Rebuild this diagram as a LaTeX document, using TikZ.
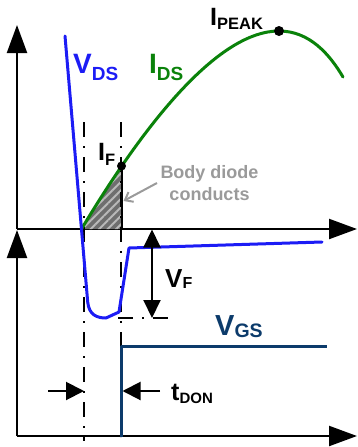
\documentclass[tikz,border=0pt]{standalone}
\usepackage{fontspec}
\setmainfont{Liberation Sans}
\usetikzlibrary{arrows.meta, patterns.meta}
\definecolor{cvds}{HTML}{1C1CF5}
\definecolor{cids}{HTML}{0A820A}
\definecolor{cvgs}{HTML}{0C3B6B}
\definecolor{cnote}{HTML}{9A9A9A}
\definecolor{chatch}{HTML}{6E6E6E}
\newcommand{\sublabel}[5]{{\fontsize{#1}{#1}\selectfont #2}\raisebox{-#5pt}{\fontsize{#3}{#3}\selectfont #4}}

\begin{document}
\begin{tikzpicture}[x=1pt, y=-1pt,
  axis/.style={line width=2.2pt, -{Triangle[length=28pt,width=20pt]}},
  ddash/.style={line width=1.6pt, dash pattern=on 15pt off 9pt on 2pt off 9pt},
  wave/.style={line width=3pt, line join=round, line cap=round, draw=#1},
  dimarr/.style={line width=2pt, {Triangle[length=18pt,width=17pt]}-{Triangle[length=18pt,width=17pt]}},
  tarr/.style={line width=2pt, -{Triangle[length=18pt,width=18pt]}},
  dot/.style={circle, fill=black, inner sep=0pt, minimum size=#1},
  lbl/.style={anchor=base west, inner sep=0pt, font=\bfseries}
]
\useasboundingbox (0,0) rectangle (358,447);

% axes
\coordinate (O1)   at (17,229);
\coordinate (Ytop) at (17,25);
\coordinate (Xtop) at (357,229);
\coordinate (O2)   at (17,436);
\coordinate (Ybot) at (17,230);
\coordinate (Xbot) at (357,436);
\draw[axis] (O1) -- (Ytop);
\draw[axis] (O1) -- (Xtop);
\draw[axis] (O2) -- (Ybot);
\draw[axis] (O2) -- (Xbot);

% key points
\coordinate (zero) at (81.5,229);
\coordinate (peak) at (279,31);
\coordinate (IF)   at (121.5,166);

% body diode conduction area
\begin{scope}
  \clip (zero |- 0,140) rectangle (IF |- O1);
  \fill[chatch] (zero) .. controls (148,118) and (220,31) .. (peak) -- (peak |- O1) -- cycle;
  \fill[pattern={Lines[angle=45,distance=6pt,line width=2pt]}, pattern color=gray!55]
    (zero) .. controls (148,118) and (220,31) .. (peak) -- (peak |- O1) -- cycle;
\end{scope}
\draw[line width=2pt] (IF) -- (IF |- O1);

% time markers
\coordinate (m1top) at (84,122);
\coordinate (m1bot) at (84,441);
\coordinate (m2top) at (121,122);
\coordinate (m2bot) at (121,437);
\draw[ddash] (m1top) -- (m1bot);
\draw[ddash] (m2top) -- (m2bot);
\draw[ddash] (118,318) -- (170,318);

% I_DS
\draw[wave=cids] (zero) .. controls (148,118) and (220,31) .. (peak)
  .. controls (310,31) and (330,55) .. (343,77);

% V_DS
\draw[wave=cvds] (65,36) -- (87.7,302) .. controls (89,315) and (97,318) .. (106,318)
  -- (119,312) -- (129,248) -- (322,242);

% V_GS
\draw[wave=cvgs, line cap=butt] (121.5,437) -- (121.5,346) -- (327,346);

% V_F and t_DON
\coordinate (vfTop) at (152,229.5);
\coordinate (vfBot) at (152,318);
\draw[dimarr] (vfTop) -- (vfBot);
\coordinate (tdL) at (48,391);
\coordinate (tdR) at (160,391);
\draw[tarr] (tdL) -- (m1top |- tdL);
\draw[tarr] (tdR) -- (122.5,391);

% dots
\node[dot=9pt]  (ifDot)   at (IF)   {};
\node[dot=10pt] (peakDot) at (peak) {};

% labels
\node[lbl, text=cvds] (vdsLbl)  at (73,73)   {\sublabel{28}{V}{19}{DS}{7}};
\node[lbl, text=cids] (idsLbl)  at (149,73)  {\sublabel{28}{I}{19}{DS}{7}};
\node[lbl]            (peakLbl) at (210,25)  {\sublabel{25}{I}{16.5}{PEAK}{4}};
\node[lbl]            (ifLbl)   at (98,160)  {\sublabel{25}{I}{16.5}{F}{5}};
\node[lbl]            (vfLbl)   at (165,287) {\sublabel{26}{V}{16}{F}{1.5}};
\node[lbl, text=cvgs] (vgsLbl)  at (215,335) {\sublabel{29}{V}{19.5}{GS}{2}};
\node[lbl]            (tdLbl)   at (171,400) {\sublabel{25}{t}{15}{DON}{3}};
\node[anchor=north, inner sep=0pt, align=center, text=cnote,
      font=\fontsize{18}{22}\selectfont\bfseries] (bodyLbl) at (209.5,165) {Body diode\\conducts};
\draw[line width=2pt, cnote, -{Straight Barb[length=7pt,width=11pt]}] (157,183) -- (123.5,201);
\end{tikzpicture}
\end{document}
